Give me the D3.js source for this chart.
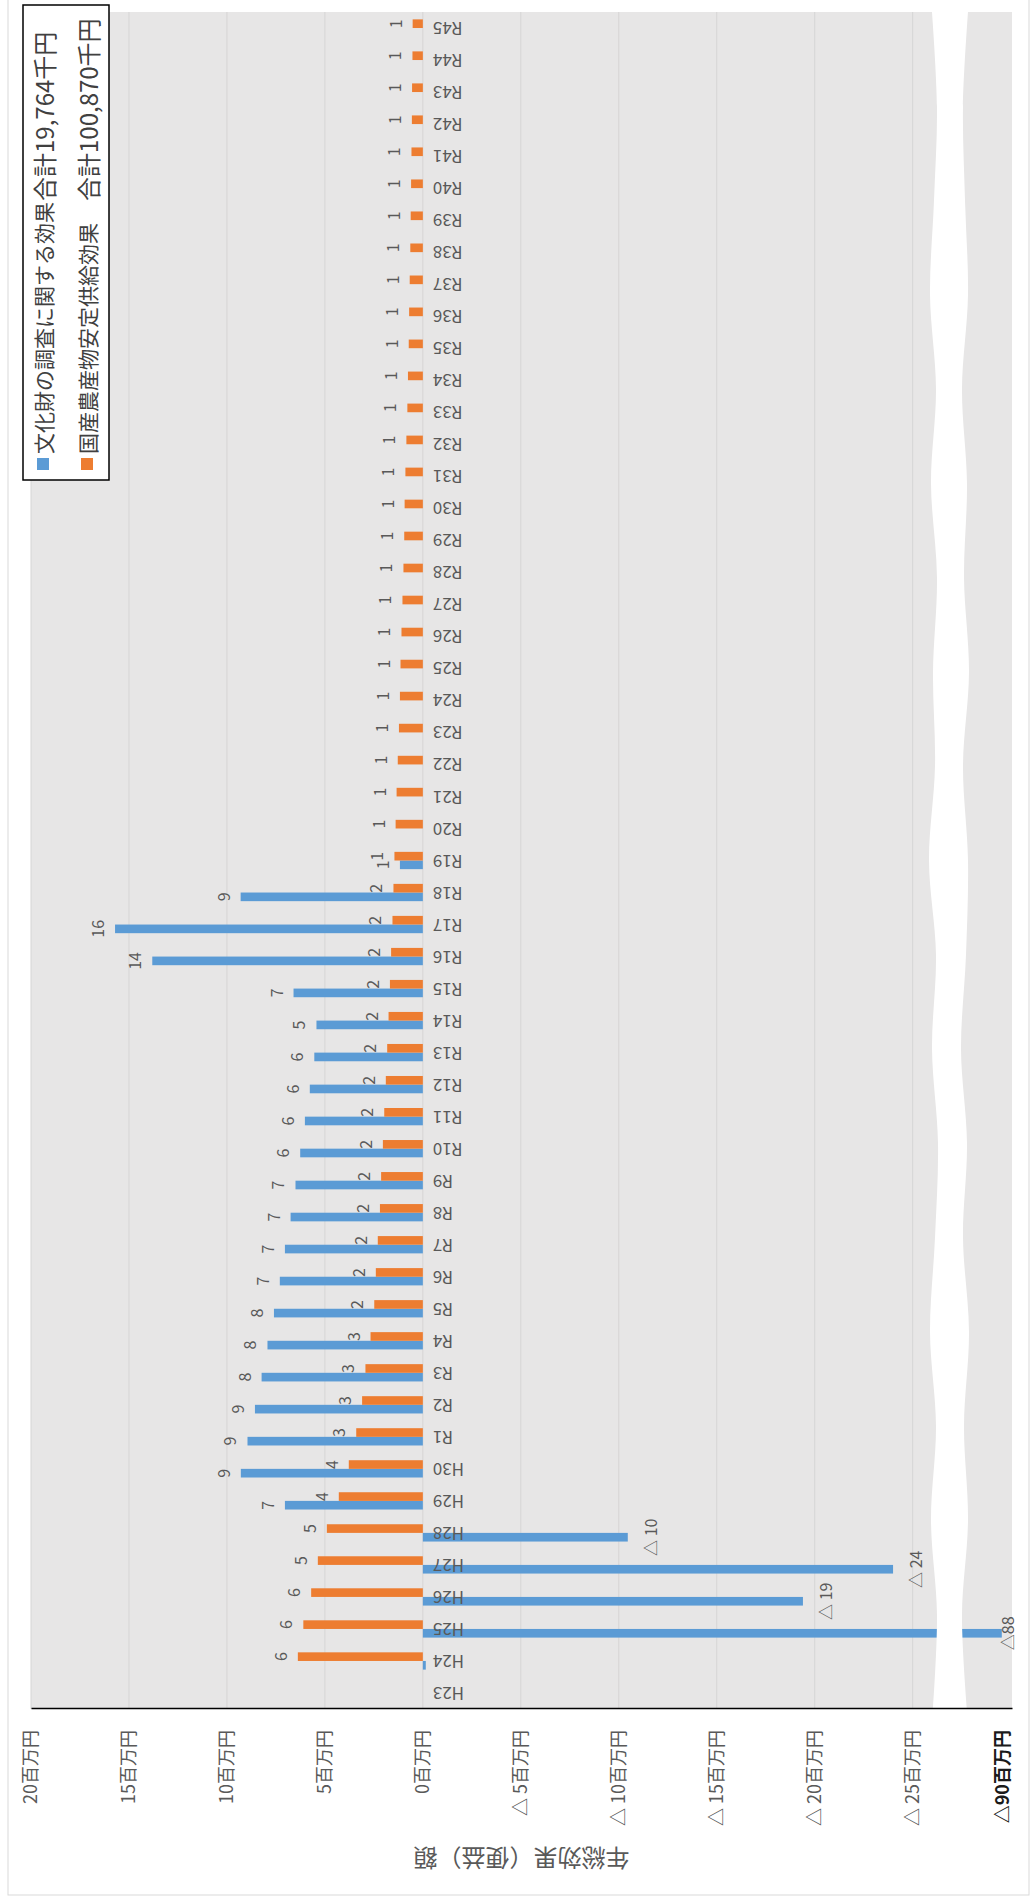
<!DOCTYPE html>
<html>
<head>
<meta charset="utf-8">
<script src="https://cdn.jsdelivr.net/npm/d3@7"></script>
<style>
  html, body { margin: 0; padding: 0; background: #fff; }
  svg { display: block; font-family: "Noto Sans CJK JP", "Noto Sans", sans-serif; }
</style>
</head>
<body>
<svg id="chart" width="1036" height="1901"></svg>
<script>
// Fiscal years (Heisei / Reiwa)
const categories = [
  "H23","H24","H25","H26","H27","H28","H29","H30",
  "R1","R2","R3","R4","R5","R6","R7","R8","R9","R10",
  "R11","R12","R13","R14","R15","R16","R17","R18","R19","R20",
  "R21","R22","R23","R24","R25","R26","R27","R28","R29","R30",
  "R31","R32","R33","R34","R35","R36","R37","R38","R39","R40",
  "R41","R42","R43","R44","R45"
];

// 文化財の調査に関する効果 (百万円)
const culturalSurvey = [
  null, -0.15, -87.6, -19.4, -24.0, -10.46, 7.04, 9.29,
  8.95, 8.57, 8.23, 7.93, 7.60, 7.30, 7.04, 6.75, 6.50, 6.26,
  6.02, 5.77, 5.54, 5.43, 6.60, 13.81, 15.71, 9.30, 1.17, null,
  null, null, null, null, null, null, null, null, null, null,
  null, null, null, null, null, null, null, null, null, null,
  null, null, null, null, null
];

// 国産農産物安定供給効果 (百万円)
const domesticSupply = [
  null, 6.38, 6.10, 5.70, 5.36, 4.90, 4.29, 3.78,
  3.40, 3.10, 2.93, 2.67, 2.48, 2.40, 2.30, 2.19, 2.13, 2.04,
  1.97, 1.89, 1.82, 1.75, 1.68, 1.62, 1.55, 1.50, 1.45, 1.39,
  1.34, 1.28, 1.22, 1.17, 1.14, 1.09, 1.04, 0.99, 0.95, 0.93,
  0.89, 0.84, 0.79, 0.76, 0.72, 0.70, 0.67, 0.64, 0.62, 0.60,
  0.58, 0.56, 0.55, 0.53, 0.52
];

const seriesNames = ["文化財の調査に関する効果", "国産農産物安定供給効果"];
const seriesTotals = ["合計19,764千円", "合計100,870千円"];
const seriesColors = ["#5B9BD5", "#ED7D31"];

// Value axis: ticks and their labels (axis broken between △25 and △90)
const tickValues = [20, 15, 10, 5, 0, -5, -10, -15, -20, -25, -90];
const tickLabels = ["20百万円", "15百万円", "10百万円", "5百万円", "0百万円",
  "△ 5百万円", "△ 10百万円", "△ 15百万円", "△ 20百万円", "△ 25百万円", "△90百万円"];
const axisTitle = "年総効果（便益）額";

const W = 1036, H = 1901;
const svg = d3.select("#chart");

// The column chart is laid out in its own frame and turned a quarter turn
// counter-clockwise: frame x runs up the page, frame y runs right.
const g = svg.append("g").attr("transform", `translate(0,${H}) rotate(-90)`);

const plot = { x0: 192, x1: 1889, y0: 31, y1: 1012 };

// chart area
g.append("rect")
  .attr("x", 6).attr("y", 8).attr("width", 1902).attr("height", 1021)
  .attr("fill", "#fff").attr("stroke", "#D9D9D9").attr("stroke-width", 1);

// plot area
g.append("rect")
  .attr("x", plot.x0).attr("y", plot.y0)
  .attr("width", plot.x1 - plot.x0).attr("height", plot.y1 - plot.y0)
  .attr("fill", "#E7E6E6");

const x = d3.scaleBand().domain(categories)
  .range([plot.x0, plot.x1]).paddingInner(0.46).paddingOuter(0.23);
const sub = d3.scaleBand().domain([0, 1]).range([0, x.bandwidth()]);

// piecewise value scale carrying the axis break
const y = d3.scaleLinear()
  .domain([20, -26.6, -86, -88, -90])
  .range([plot.y0, 944, 965, 1011, plot.y1]);

// gridlines
g.append("g").selectAll("line")
  .data(tickValues.filter(v => v > -30))
  .join("line")
  .attr("x1", plot.x0).attr("x2", plot.x1)
  .attr("y1", d => y(d)).attr("y2", d => y(d))
  .attr("stroke", "#D6D5D5").attr("stroke-width", 1);

// bars
const series = [culturalSurvey, domesticSupply];
series.forEach((vals, si) => {
  g.append("g").selectAll("rect")
    .data(vals.map((v, i) => ({ v, c: categories[i] })).filter(d => d.v !== null))
    .join("rect")
    .attr("x", d => x(d.c) + sub(si))
    .attr("width", sub.bandwidth())
    .attr("y", d => Math.min(y(0), y(d.v)))
    .attr("height", d => Math.abs(y(d.v) - y(0)))
    .attr("fill", seriesColors[si]);
});

// axis break band
const breakL = [0, 4, -2, 3, -3, 2, 5, -1, 3, -4, 2, 0, 4, -2, 3, -3, 1, 4, -1];
const breakR = [2, -3, 3, -1, 4, -2, 2, -4, 1, 3, -2, 4, -1, 2, -3, 3, 0, -2, 3];
const breakPts = breakL.map((d, i) => ({
  lx: plot.x0 + (plot.x1 - plot.x0) * i / (breakL.length - 1),
  a: 933 + d,
  b: 965 + breakR[i]
}));
g.append("path")
  .datum(breakPts)
  .attr("d", d3.area().x(d => d.lx).y0(d => d.a).y1(d => d.b).curve(d3.curveCatmullRom))
  .attr("fill", "#fff");

// data labels
series.forEach((vals, si) => {
  g.append("g").selectAll("text")
    .data(vals.map((v, i) => ({ v, c: categories[i] }))
      .filter(d => d.v !== null && Math.round(Math.abs(d.v)) >= 1))
    .join("text")
    .attr("x", d => x(d.c) + sub(si) + sub.bandwidth() / 2)
    .attr("y", d => d.v >= 0 ? y(d.v) - 11 : (d.v < -30 ? y(d.v) + 12 : y(d.v) + 29))
    .attr("text-anchor", "middle")
    .attr("font-size", 16)
    .attr("fill", "#595959")
    .text(d => d.v >= 0 ? d3.format("d")(Math.round(d.v))
      : (d.v < -30 ? "△" : "△ ") + Math.round(-d.v));
});

// value axis
const yAxis = g.append("g")
  .attr("transform", `translate(${plot.x0},0)`)
  .call(d3.axisLeft(y).tickValues(tickValues)
    .tickFormat((d, i) => tickLabels[i]).tickSize(0).tickSizeOuter(0).tickPadding(21));
yAxis.select(".domain").attr("stroke", "#000").attr("stroke-width", 1.6);
yAxis.selectAll("text")
  .attr("font-size", 18).attr("fill", "#595959")
  .style("font-family", "'Noto Sans CJK JP', sans-serif");
yAxis.selectAll(".tick").filter(d => d === -90).select("text")
  .attr("y", -9).attr("fill", "#1a1a1a").attr("font-weight", 600);

// category axis
const xAxis = g.append("g")
  .attr("transform", `translate(0,${y(0)})`)
  .call(d3.axisBottom(x).tickSize(0).tickSizeOuter(0));
xAxis.select(".domain").remove();
xAxis.selectAll("text")
  .attr("transform", "rotate(-90)")
  .attr("x", -10).attr("y", 0).attr("dy", "0.35em")
  .attr("text-anchor", "end")
  .attr("font-size", 17).attr("fill", "#595959")
  .style("font-family", "'Noto Sans CJK JP', sans-serif");

// axis title
g.append("text")
  .attr("transform", `translate(42,${(plot.y0 + plot.y1) / 2}) rotate(-90)`)
  .attr("text-anchor", "middle").attr("dominant-baseline", "central")
  .attr("font-size", 24).attr("fill", "#595959")
  .text(axisTitle);

// legend
const lg = g.append("g");
lg.append("rect")
  .attr("x", 1421).attr("y", 23).attr("width", 475).attr("height", 86)
  .attr("fill", "#fff").attr("stroke", "#000").attr("stroke-width", 1.5);
const rows = [43, 87];
seriesNames.forEach((name, i) => {
  lg.append("rect")
    .attr("x", 1431).attr("y", rows[i] - 6).attr("width", 12).attr("height", 12)
    .attr("fill", seriesColors[i]);
  lg.append("text")
    .attr("x", 1447).attr("y", rows[i]).attr("dominant-baseline", "central")
    .attr("font-size", 21).attr("fill", "#404040").text(name);
  lg.append("text")
    .attr("x", 1700).attr("y", rows[i]).attr("dominant-baseline", "central")
    .attr("font-size", 24).attr("fill", "#404040").text(seriesTotals[i]);
});
</script>
</body>
</html>
